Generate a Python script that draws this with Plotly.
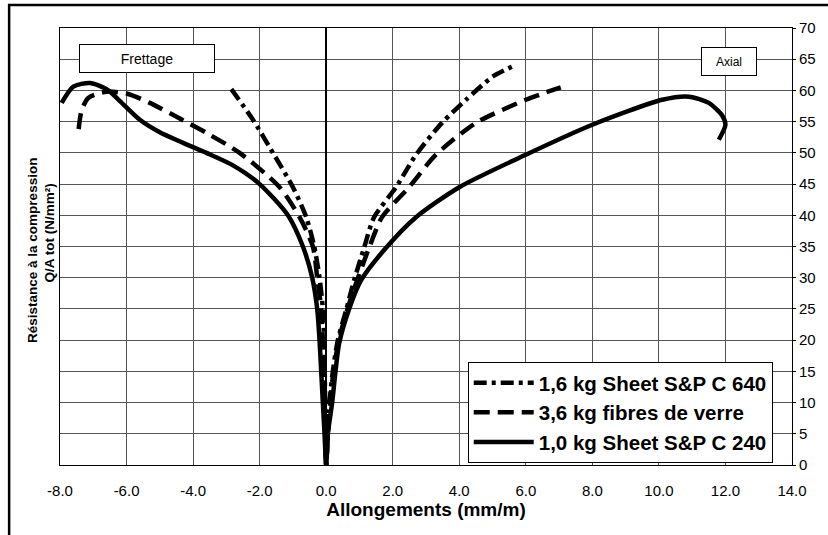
import plotly.graph_objects as go

# Series data (x = Allongements mm/m, y = Q/A tot N/mm^2), left branch (frettage) -> 0 -> right branch (axial)
c640_x = [-2.85, -2.2, -1.6, -1.0, -0.6, -0.36, -0.2, -0.1, -0.06, -0.03, 0.0,
          0.05, 0.1, 0.2, 0.35, 0.6, 0.84, 1.14, 1.44, 2.1, 2.7, 3.48, 4.2, 5.0, 5.58]
c640_y = [60.2, 55.3, 50.0, 44.5, 39.7, 35.0, 30.0, 25.0, 20.0, 10.0, 0.0,
          5.0, 10.0, 15.0, 20.0, 24.8, 29.6, 34.8, 39.7, 44.5, 49.7, 54.8, 58.5, 62.2, 63.8]

verre_x = [-7.44, -7.35, -7.15, -6.6, -6.0, -5.3, -4.4, -3.6, -2.6, -1.4, -0.8, -0.4, -0.27, -0.15, -0.1, -0.05, 0.0,
           0.05, 0.12, 0.22, 0.38, 0.63, 0.93, 1.29, 1.68, 2.49, 3.3, 4.5, 6.0, 7.05]
verre_y = [53.8, 56.8, 58.8, 59.8, 59.5, 58.0, 55.5, 53.2, 50.0, 44.5, 39.7, 35.0, 30.0, 25.0, 20.0, 10.0, 0.0,
           5.0, 10.0, 15.0, 20.0, 24.8, 29.6, 34.8, 39.7, 44.5, 49.7, 54.8, 58.5, 60.5]

c240_x = [-7.95, -7.6, -7.1, -6.6, -6.2, -5.6, -5.0, -4.3, -3.6, -2.8, -2.0, -1.15, -0.7, -0.42, -0.27, -0.2, -0.15, -0.1, -0.05, 0.0,
          0.05, 0.18, 0.28, 0.39, 0.69, 1.05, 1.8, 2.7, 4.0, 6.0, 8.0, 10.1, 10.9, 11.5, 11.9, 12.0, 11.8]
c240_y = [58.0, 60.6, 61.2, 60.2, 58.3, 55.3, 53.3, 51.6, 50.0, 48.0, 45.0, 40.0, 35.0, 30.0, 25.0, 20.0, 15.0, 10.0, 5.0, 0.0,
          5.0, 10.0, 15.0, 19.5, 25.0, 29.6, 34.8, 39.7, 44.5, 49.7, 54.5, 58.5, 59.0, 58.0, 56.0, 54.5, 52.1]

series_names = ["1,6 kg Sheet S&P C 640", "3,6 kg fibres de verre", "1,0 kg Sheet S&P C 240"]
x_ticks = [-8, -6, -4, -2, 0, 2, 4, 6, 8, 10, 12, 14]
x_ticktext = [f"{v:.1f}" for v in x_ticks]
y_ticks = list(range(0, 75, 5))

FONT = "Liberation Sans, Arial, Helvetica, sans-serif"

fig = go.Figure()
fig.add_trace(go.Scatter(x=c640_x, y=c640_y, mode="lines", name=series_names[0],
                         line=dict(color="black", width=4.5, dash="13px,5px,4px,5px", shape="spline", smoothing=0.7)))
fig.add_trace(go.Scatter(x=verre_x, y=verre_y, mode="lines", name=series_names[1],
                         line=dict(color="black", width=4.5, dash="16px,8px", shape="spline", smoothing=0.7)))
fig.add_trace(go.Scatter(x=c240_x, y=c240_y, mode="lines", name=series_names[2],
                         line=dict(color="black", width=4.5, shape="spline", smoothing=0.7)))

fig.update_layout(
    width=828, height=535,
    margin=dict(l=60, r=34, t=28, b=70),
    paper_bgcolor="white", plot_bgcolor="white",
    font=dict(family=FONT, color="black", size=14),
    showlegend=True,
    legend=dict(x=0.557, y=0.236, xanchor="left", yanchor="top",
                bgcolor="white", bordercolor="black", borderwidth=1,
                font=dict(size=20.5, family=FONT, weight="bold"),
                tracegroupgap=0, itemwidth=60),
    xaxis=dict(range=[-8, 14], tickvals=x_ticks, ticktext=x_ticktext,
               showgrid=True, gridcolor="#555555", gridwidth=1,
               zeroline=True, zerolinecolor="black", zerolinewidth=2,
               showline=True, mirror=True, linecolor="black", linewidth=1,
               ticks="", ticklabelstandoff=12, tickfont=dict(size=15),
               title=dict(text="<b>Allongements (mm/m)</b>", font=dict(size=19), standoff=2)),
    yaxis=dict(range=[0, 70], tickvals=y_ticks, side="right",
               showgrid=True, gridcolor="#555555", gridwidth=1,
               zeroline=False, tickfont=dict(size=15),
               showline=True, mirror=True, linecolor="black", linewidth=1,
               ticks="outside", ticklen=3, tickcolor="black"),
)

# outer frame
fig.add_shape(type="rect", xref="paper", yref="paper",
              x0=-0.0695, x1=1.3, y0=-0.4, y1=1.0526,
              line=dict(color="black", width=2.5), fillcolor="rgba(0,0,0,0)", layer="above")

# left axis title (two lines)
fig.add_annotation(xref="paper", yref="paper", x=(33 - 60) / 734, y=0.49, xanchor="center", yanchor="middle",
                   text="<b>Résistance à la compression</b>", textangle=-90,
                   showarrow=False, font=dict(size=13.5, family=FONT))
fig.add_annotation(xref="paper", yref="paper", x=(49 - 60) / 734, y=0.53, xanchor="center", yanchor="middle",
                   text="<b>Q/A tot (N/mm²)</b>", textangle=-90,
                   showarrow=False, font=dict(size=13.5, family=FONT))

# boxes
fig.add_annotation(x=-5.4, y=65.1, text="Frettage", showarrow=False, width=132, height=25,
                   bgcolor="white", bordercolor="black", borderwidth=1, font=dict(size=14, family=FONT))
fig.add_annotation(x=12.12, y=64.6, text="Axial", showarrow=False, width=52, height=25,
                   bgcolor="white", bordercolor="black", borderwidth=1, font=dict(size=12, family=FONT))

fig.write_html("out.html")
